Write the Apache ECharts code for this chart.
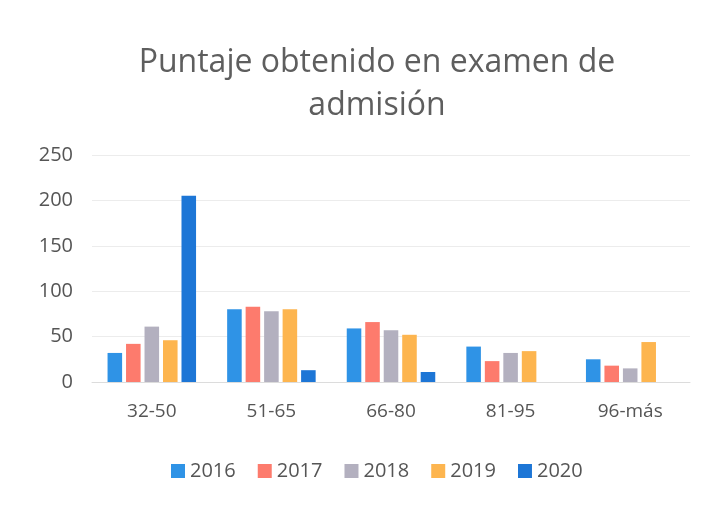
<!DOCTYPE html>
<html><head><meta charset="utf-8">
<script src="https://cdn.jsdelivr.net/npm/echarts@6/dist/echarts.min.js"></script>
<style>html,body{margin:0;padding:0;background:#fff}#c{width:709px;height:505px}</style>
</head><body><div id="c"></div>
<script>
const categories = ['32-50', '51-65', '66-80', '81-95', '96-más'];
const years = ['2016', '2017', '2018', '2019', '2020'];
const v2016 = [32, 80, 59, 39, 25];
const v2017 = [42, 83, 66, 23, 18];
const v2018 = [61, 78, 57, 32, 15];
const v2019 = [46, 80, 52, 34, 44];
const v2020 = [205, 13, 11, 0, 0];
const yTicks = [0, 50, 100, 150, 200, 250];
const colors = ['#2f93e6', '#fd7b6d', '#b3b0bf', '#fdb54f', '#1d76d6'];
const values = [v2016, v2017, v2018, v2019, v2020];

const chart = echarts.init(document.getElementById('c'));
const font = '"Open Sans", "Noto Sans", sans-serif';
chart.setOption({
  animation: false,
  color: colors,
  title: {
    text: 'Puntaje obtenido en examen de\nadmisión',
    left: 372, top: 36, textAlign: 'center',
    textStyle: { fontFamily: font, fontSize: 32, fontWeight: 'normal', color: '#5e5e5e', lineHeight: 43 }
  },
  legend: {
    data: years, top: 456, left: 166, itemWidth: 14, itemHeight: 14, itemGap: 22,
    icon: 'rect',
    textStyle: { fontFamily: font, fontSize: 20, color: '#555' }
  },
  grid: { left: 92, right: 19, top: 155, bottom: 123 },
  xAxis: {
    type: 'category', data: categories,
    axisLine: { lineStyle: { color: '#dcdcdc' } },
    axisTick: { show: false },
    axisLabel: { fontFamily: font, fontSize: 19, color: '#555', margin: 20 }
  },
  yAxis: {
    type: 'value', min: yTicks[0], max: yTicks[yTicks.length - 1], interval: 50,
    axisLine: { show: false }, axisTick: { show: false },
    splitLine: { lineStyle: { color: '#ececec' } },
    axisLabel: { fontFamily: font, fontSize: 20, color: '#555', margin: 19 }
  },
  series: years.map((y, i) => ({
    name: y, type: 'bar', data: values[i],
    barGap: '27%', barCategoryGap: '26%'
  }))
});
</script></body></html>
